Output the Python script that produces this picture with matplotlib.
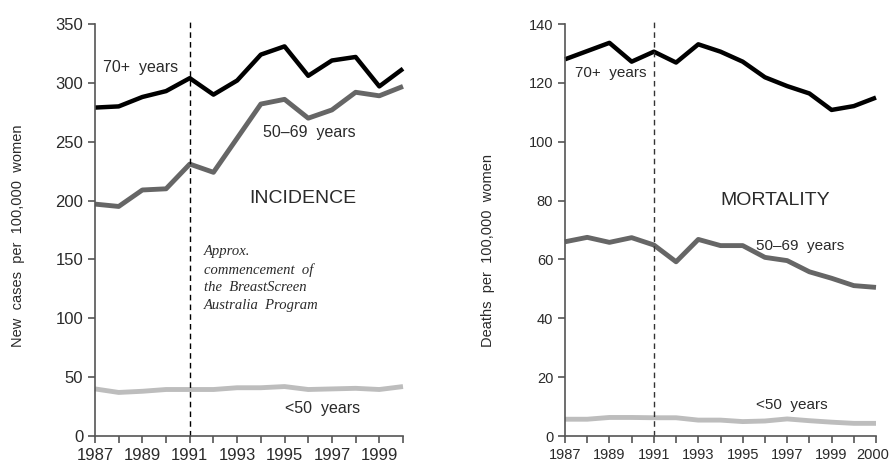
import matplotlib.pyplot as plt
import matplotlib.transforms as mtransforms

# incidence, 1987-2000
inc_years = list(range(1987, 2001))
inc_70 = [279, 280, 288, 293, 304, 290, 302, 324, 331, 306, 319, 322, 297, 312]
inc_50_69 = [197, 195, 209, 210, 231, 224, 253, 282, 286, 270, 277, 292, 289, 297]
inc_u50 = [40, 37, 38, 39.5, 39.5, 39.5, 41, 41, 42, 39.5, 40, 40.5, 39.5, 42]
inc_labels = ["1987", "1989", "1991", "1993", "1995", "1997", "1999"]

# mortality, drawn on 15 ticks in the original
mort_pos = list(range(15))
mort_70 = [128.0, 130.8, 133.6, 127.2, 130.6, 126.9, 133.1, 130.6, 127.2,
           121.9, 118.9, 116.4, 110.8, 112.1, 115.0]
mort_50_69 = [66.0, 67.5, 65.8, 67.4, 64.9, 59.2, 66.8, 64.7, 64.7,
              60.7, 59.6, 55.8, 53.6, 51.1, 50.5]
mort_u50 = [5.7, 5.7, 6.3, 6.3, 6.2, 6.2, 5.4, 5.4, 4.9, 5.1, 5.8, 5.2, 4.7, 4.3, 4.3]
mort_labels = ["1987", "1989", "1991", "1993", "1995", "1997", "1999", "2000"]
mort_label_pos = [0, 2, 4, 6, 8, 10, 12, 14]

plt.rcParams['font.family'] = ['Liberation Sans', 'DejaVu Sans']

C70 = "#000000"
C50 = "#666666"
CU50 = "#bdbdbd"
SPINE = "#555555"
TXT = "#2a2a2a"

fig = plt.figure(figsize=(8.91, 4.67), dpi=100)
W, H = 891, 467


def px_axes(x0, x1, y0, y1):
    return fig.add_axes([x0 / W, (H - y1) / H, (x1 - x0) / W, (y1 - y0) / H])


def style(ax, fs):
    for s in ["top", "right"]:
        ax.spines[s].set_visible(False)
    for s in ["left", "bottom"]:
        ax.spines[s].set_color(SPINE)
        ax.spines[s].set_linewidth(1.2)
    ax.tick_params(axis="both", colors=SPINE, labelcolor=TXT, labelsize=fs,
                   length=5, width=1.2, direction="out")


ax1 = px_axes(95, 403, 24, 436)
ax1.plot(inc_years, inc_u50, color=CU50, lw=3.5, solid_capstyle="butt", clip_on=False)
ax1.plot(inc_years, inc_50_69, color=C50, lw=3.5, solid_capstyle="butt", clip_on=False)
ax1.plot(inc_years, inc_70, color=C70, lw=3.2, solid_capstyle="butt", clip_on=False)
ax1.plot([1991, 1991], [0, 354], color="black", lw=1, ls=(0, (4, 3)), clip_on=False)
ax1.set_xlim(1987, 2000)
ax1.set_ylim(0, 350)
ax1.set_xticks(inc_years)
ax1.set_xticklabels([str(y) if str(y) in inc_labels else "" for y in inc_years])
ax1.set_yticks(range(0, 351, 50))
style(ax1, 12)

ax1.text(1987.35, 313, "70+  years", fontsize=11.5, color=TXT, va="center")
ax1.text(1994.1, 258, "50–69  years", fontsize=11.5, color=TXT, va="center")
ax1.text(1993.5, 202, "INCIDENCE", fontsize=14, color=TXT, va="center")
ax1.text(1991.6, 162, "Approx.\ncommencement  of\nthe  BreastScreen\nAustralia  Program",
         fontsize=10.5, family=["Liberation Serif", "DejaVu Serif"], style="italic",
         color=TXT, va="top", linespacing=1.45)
ax1.text(1995.0, 23, "<50  years", fontsize=11.5, color=TXT, va="center")

fig.text(18 / W, (H - 347) / H, "New  cases  per  100,000  women", rotation=90,
         rotation_mode="anchor", ha="left", va="center", fontsize=10.5, color=TXT)

ax2 = px_axes(565, 876, 24, 436)
ax2.plot(mort_pos, mort_u50, color=CU50, lw=3.5, solid_capstyle="butt", clip_on=False)
ax2.plot(mort_pos, mort_50_69, color=C50, lw=3.5, solid_capstyle="butt", clip_on=False)
ax2.plot(mort_pos, mort_70, color=C70, lw=3.2, solid_capstyle="butt", clip_on=False)
ax2.plot([4, 4], [0, 141.5], color="#333333", lw=1, ls=(0, (4, 3)), clip_on=False)
ax2.set_xlim(0, 14)
ax2.set_ylim(0, 140)
ax2.set_xticks(mort_pos)
ax2.set_xticklabels([mort_labels[mort_label_pos.index(p)] if p in mort_label_pos else ""
                     for p in mort_pos])
ax2.set_yticks(range(0, 141, 20))
style(ax2, 10.5)
# keep the last year label inside the figure
last = ax2.get_xticklabels()[-1]
last.set_transform(last.get_transform() +
                   mtransforms.ScaledTranslation(-3 / 100, 0, fig.dpi_scale_trans))

ax2.text(0.45, 123.5, "70+  years", fontsize=11, color=TXT, va="center")
ax2.text(7.0, 80, "MORTALITY", fontsize=14, color=TXT, va="center")
ax2.text(8.6, 64.5, "50–69  years", fontsize=11, color=TXT, va="center")
ax2.text(8.6, 10.5, "<50  years", fontsize=11, color=TXT, va="center")

fig.text(488 / W, (H - 347) / H, "Deaths  per  100,000  women", rotation=90,
         rotation_mode="anchor", ha="left", va="center", fontsize=10.5, color=TXT)

fig.savefig("out.png", dpi=100)
